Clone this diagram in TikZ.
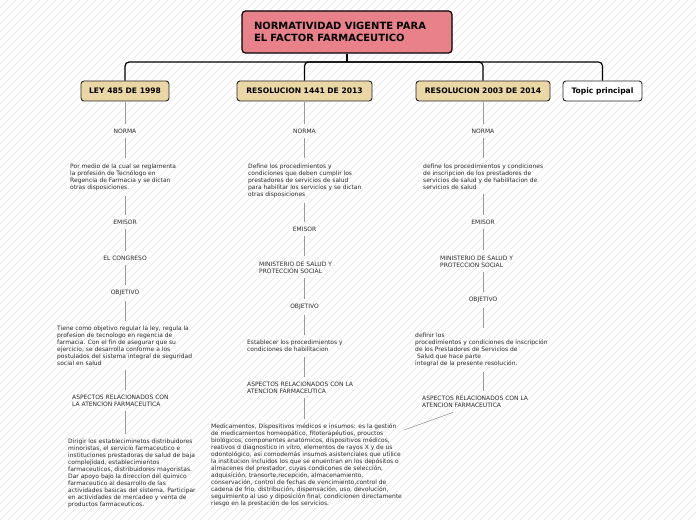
\documentclass[tikz,border=0pt]{standalone}
\usepackage{fontspec}
\setmainfont{DejaVu Sans}
\usetikzlibrary{calc}
\definecolor{titlered}{HTML}{E9818B}
\definecolor{lawtan}{HTML}{EBD6A6}
\definecolor{linkgray}{HTML}{9A9A9A}
\definecolor{txtgray}{HTML}{2A2A2A}
\definecolor{hatchgray}{HTML}{E6E6E6}

\begin{document}
\begin{tikzpicture}[x=1bp,y=-1bp,
  hatch/.style={draw=hatchgray, line width=0.5bp},
  titlebox/.style={draw=black, line width=1.2bp, fill=titlered, rounded corners=3.5bp,
    minimum height=42bp, inner xsep=12bp, text width=186bp, align=left,
    font=\fontsize{10}{12.5}\selectfont\bfseries},
  lawbox/.style={draw=black!85, line width=0.9bp, fill=lawtan, rounded corners=3bp,
    minimum height=20bp, inner sep=0pt, font=\fontsize{7.6}{8}\selectfont\bfseries},
  small/.style={inner sep=0pt, text=txtgray, font=\fontsize{6}{7}\selectfont},
  block/.style={small, anchor=north west, align=left},
  branch/.style={draw=black, line width=1.2bp, rounded corners=4bp},
  link/.style={draw=linkgray, line width=0.9bp, shorten <=5bp, shorten >=5bp}]

\useasboundingbox (0,0) rectangle (696,520);
\fill[white] (0,0) rectangle (696,520);
\begin{scope}
\clip (0,0) rectangle (696,520);
\foreach \i in {-520,-512,...,696} \draw[hatch] (\i,520) -- (\i+520,0); %background stripes
\end{scope}

%title and first row
\node[titlebox] (title) at (347,32) {NORMATIVIDAD VIGENTE PARA\\EL FACTOR FARMACEUTICO};
\node[lawbox, minimum width=88bp] (ley) at (125,91) {LEY 485 DE 1998};
\node[lawbox, minimum width=135bp] (r1441) at (304.5,91) {RESOLUCION 1441 DE 2013};
\node[lawbox, minimum width=134bp] (r2003) at (483,91) {RESOLUCION 2003 DE 2014};
\node[lawbox, minimum width=79bp, fill=white] (topic) at (602.5,91) {Topic principal};

\coordinate (bus) at (347,62);
\draw[branch] (title.south) -- (bus);
\draw[branch] (ley.north) |- (bus) -| (topic.north);
\draw[branch] (r1441.north) |- (bus);
\draw[branch] (r2003.north) |- (bus);

%ley 485
\node[small] (norma1) at (125,131) {NORMA};
\node[block] (desc1) at (70,163.5) {Por medio de la cual se reglamenta\\la profesión de Tecnólogo en\\Regencia de Farmacia y se dictan\\otras disposiciones.};
\node[small] (emisor1) at (125,222) {EMISOR};
\node[small] (congreso1) at (125,258) {EL CONGRESO};
\node[small] (obj1) at (125,293) {OBJETIVO};
\node[block] (goal1) at (57,325.5) {Tiene como objetivo regular la ley, regula la\\profesion de tecnologo en regencia de\\farmacia. Con el fin de asegurar que su\\ejercicio, se desarrolla conforme a los\\postulados del sistema integral de seguridad\\social en salud};
\node[block] (asp1) at (72,394.5) {ASPECTOS RELACIONADOS CON\\LA ATENCION FARMACEUTICA};
\node[block] (acts1) at (68,438.5) {Dirigir los estableciminetos distribuidores\\minoristas, el servicio farmaceutico e\\instituciones prestadoras de salud de baja\\complejidad, establecimientos\\farmaceuticos, distribuidores mayoristas.\\Dar apoyo bajo la direccion del quimico\\farmaceutico al desarrollo de las\\actividades basicas del sistema. Participar\\en actividades de mercadeo y venta de\\productos farmaceuticos.};

\draw[link, shorten <=1bp] (ley.south) -- (norma1.north);
\draw[link] (norma1.south) -- (norma1 |- desc1.north);
\draw[link] (norma1 |- desc1.south) -- (emisor1.north);
\draw[link] (emisor1.south) -- (congreso1.north);
\draw[link] (congreso1.south) -- (obj1.north);
\draw[link] (obj1.south) -- (obj1 |- goal1.north);
\draw[link] (obj1 |- goal1.south) -- (obj1 |- asp1.north);
\draw[link] (obj1 |- asp1.south) -- (obj1 |- acts1.north);

%resolucion 1441
\node[small] (norma2) at (304.5,131) {NORMA};
\node[block] (desc2) at (248,163.5) {Define los procedimientos y\\condiciones que deben cumplir los\\prestadores de servicios de salud\\para habilitar los servicios y se dictan\\otras disposiciones};
\node[small] (emisor2) at (304.5,229) {EMISOR};
\node[block] (min2) at (259,261.5) {MINISTERIO DE SALUD Y\\PROTECCION SOCIAL};
\node[small] (obj2) at (304.5,307) {OBJETIVO};
\node[block] (goal2) at (247,339.5) {Establecer los procedimientos y\\condiciones de habilitacion};
\node[block] (asp2) at (247,381.5) {ASPECTOS RELACIONADOS CON LA\\ATENCION FARMACEUTICA};
\node[block] (medic2) at (211,423.5) {Medicamentos, Dispositivos médicos e insumos: es la gestión\\de medicamentos homeopático, fitoterapéutios, prouctos\\biológicos, componentes anatómicos, dispositivos médicos,\\reativos d diagnostico in vitro, elementos de rayos X y de us\\odontológico, asi comodemás insumos asistenciales que utilice\\la institucion incluidos los que se enuentran en los depósitos o\\almacenes del prestador, cuyas condicones de selección,\\adquisición, transorte,recepción, almacenamiento,\\conservación, control de fechas de vencimiento,control de\\cadena de frio, distribución, dispensación, uso, devolución,\\seguimiento al uso y diposición final, condicionen directamente\\riesgo en la prestación de los servicios.};

\draw[link, shorten <=1bp] (r1441.south) -- (norma2.north);
\draw[link] (norma2.south) -- (norma2 |- desc2.north);
\draw[link] (norma2 |- desc2.south) -- (emisor2.north);
\draw[link] (emisor2.south) -- (emisor2 |- min2.north);
\draw[link] (emisor2 |- min2.south) -- (obj2.north);
\draw[link] (obj2.south) -- (obj2 |- goal2.north);
\draw[link] (obj2 |- goal2.south) -- (obj2 |- asp2.north);
\draw[link] (obj2 |- asp2.south) -- (obj2 |- medic2.north);

%resolucion 2003
\node[small] (norma3) at (483,131) {NORMA};
\node[block] (desc3) at (423,163.5) {define los procedimientos y condiciones\\de inscripcion de los prestadores de\\servicios de salud y de habilitacion de\\servicios de salud};
\node[small] (emisor3) at (483,222) {EMISOR};
\node[block] (min3) at (440,255.5) {MINISTERIO DE SALUD Y\\PROTECCION SOCIAL};
\node[small] (obj3) at (483,300) {OBJETIVO};
\node[block] (goal3) at (415,332.5) {definir los\\procedimientos y condiciones de inscripción\\de los Prestadores de Servicios de\\\ Salud que hace parte\\integral de la presente resolución.};
\node[block] (asp3) at (422,395.5) {ASPECTOS RELACIONADOS CON LA\\ATENCION FARMACEUTICA};

\draw[link, shorten <=1bp] (r2003.south) -- (norma3.north);
\draw[link] (norma3.south) -- (norma3 |- desc3.north);
\draw[link] (norma3 |- desc3.south) -- (emisor3.north);
\draw[link] (emisor3.south) -- (emisor3 |- min3.north);
\draw[link] (emisor3 |- min3.south) -- (obj3.north);
\draw[link] (obj3.south) -- (obj3 |- goal3.north);
\draw[link] (obj3 |- goal3.south) -- (obj3 |- asp3.north);
\draw[link, line width=0.6bp, shorten <=0bp, shorten >=0bp] ($(asp3.south west)+(31,5)$) -- ($(medic2.north east)+(2,6.5)$); %cross link to medicamentos
\end{tikzpicture}
\end{document}
